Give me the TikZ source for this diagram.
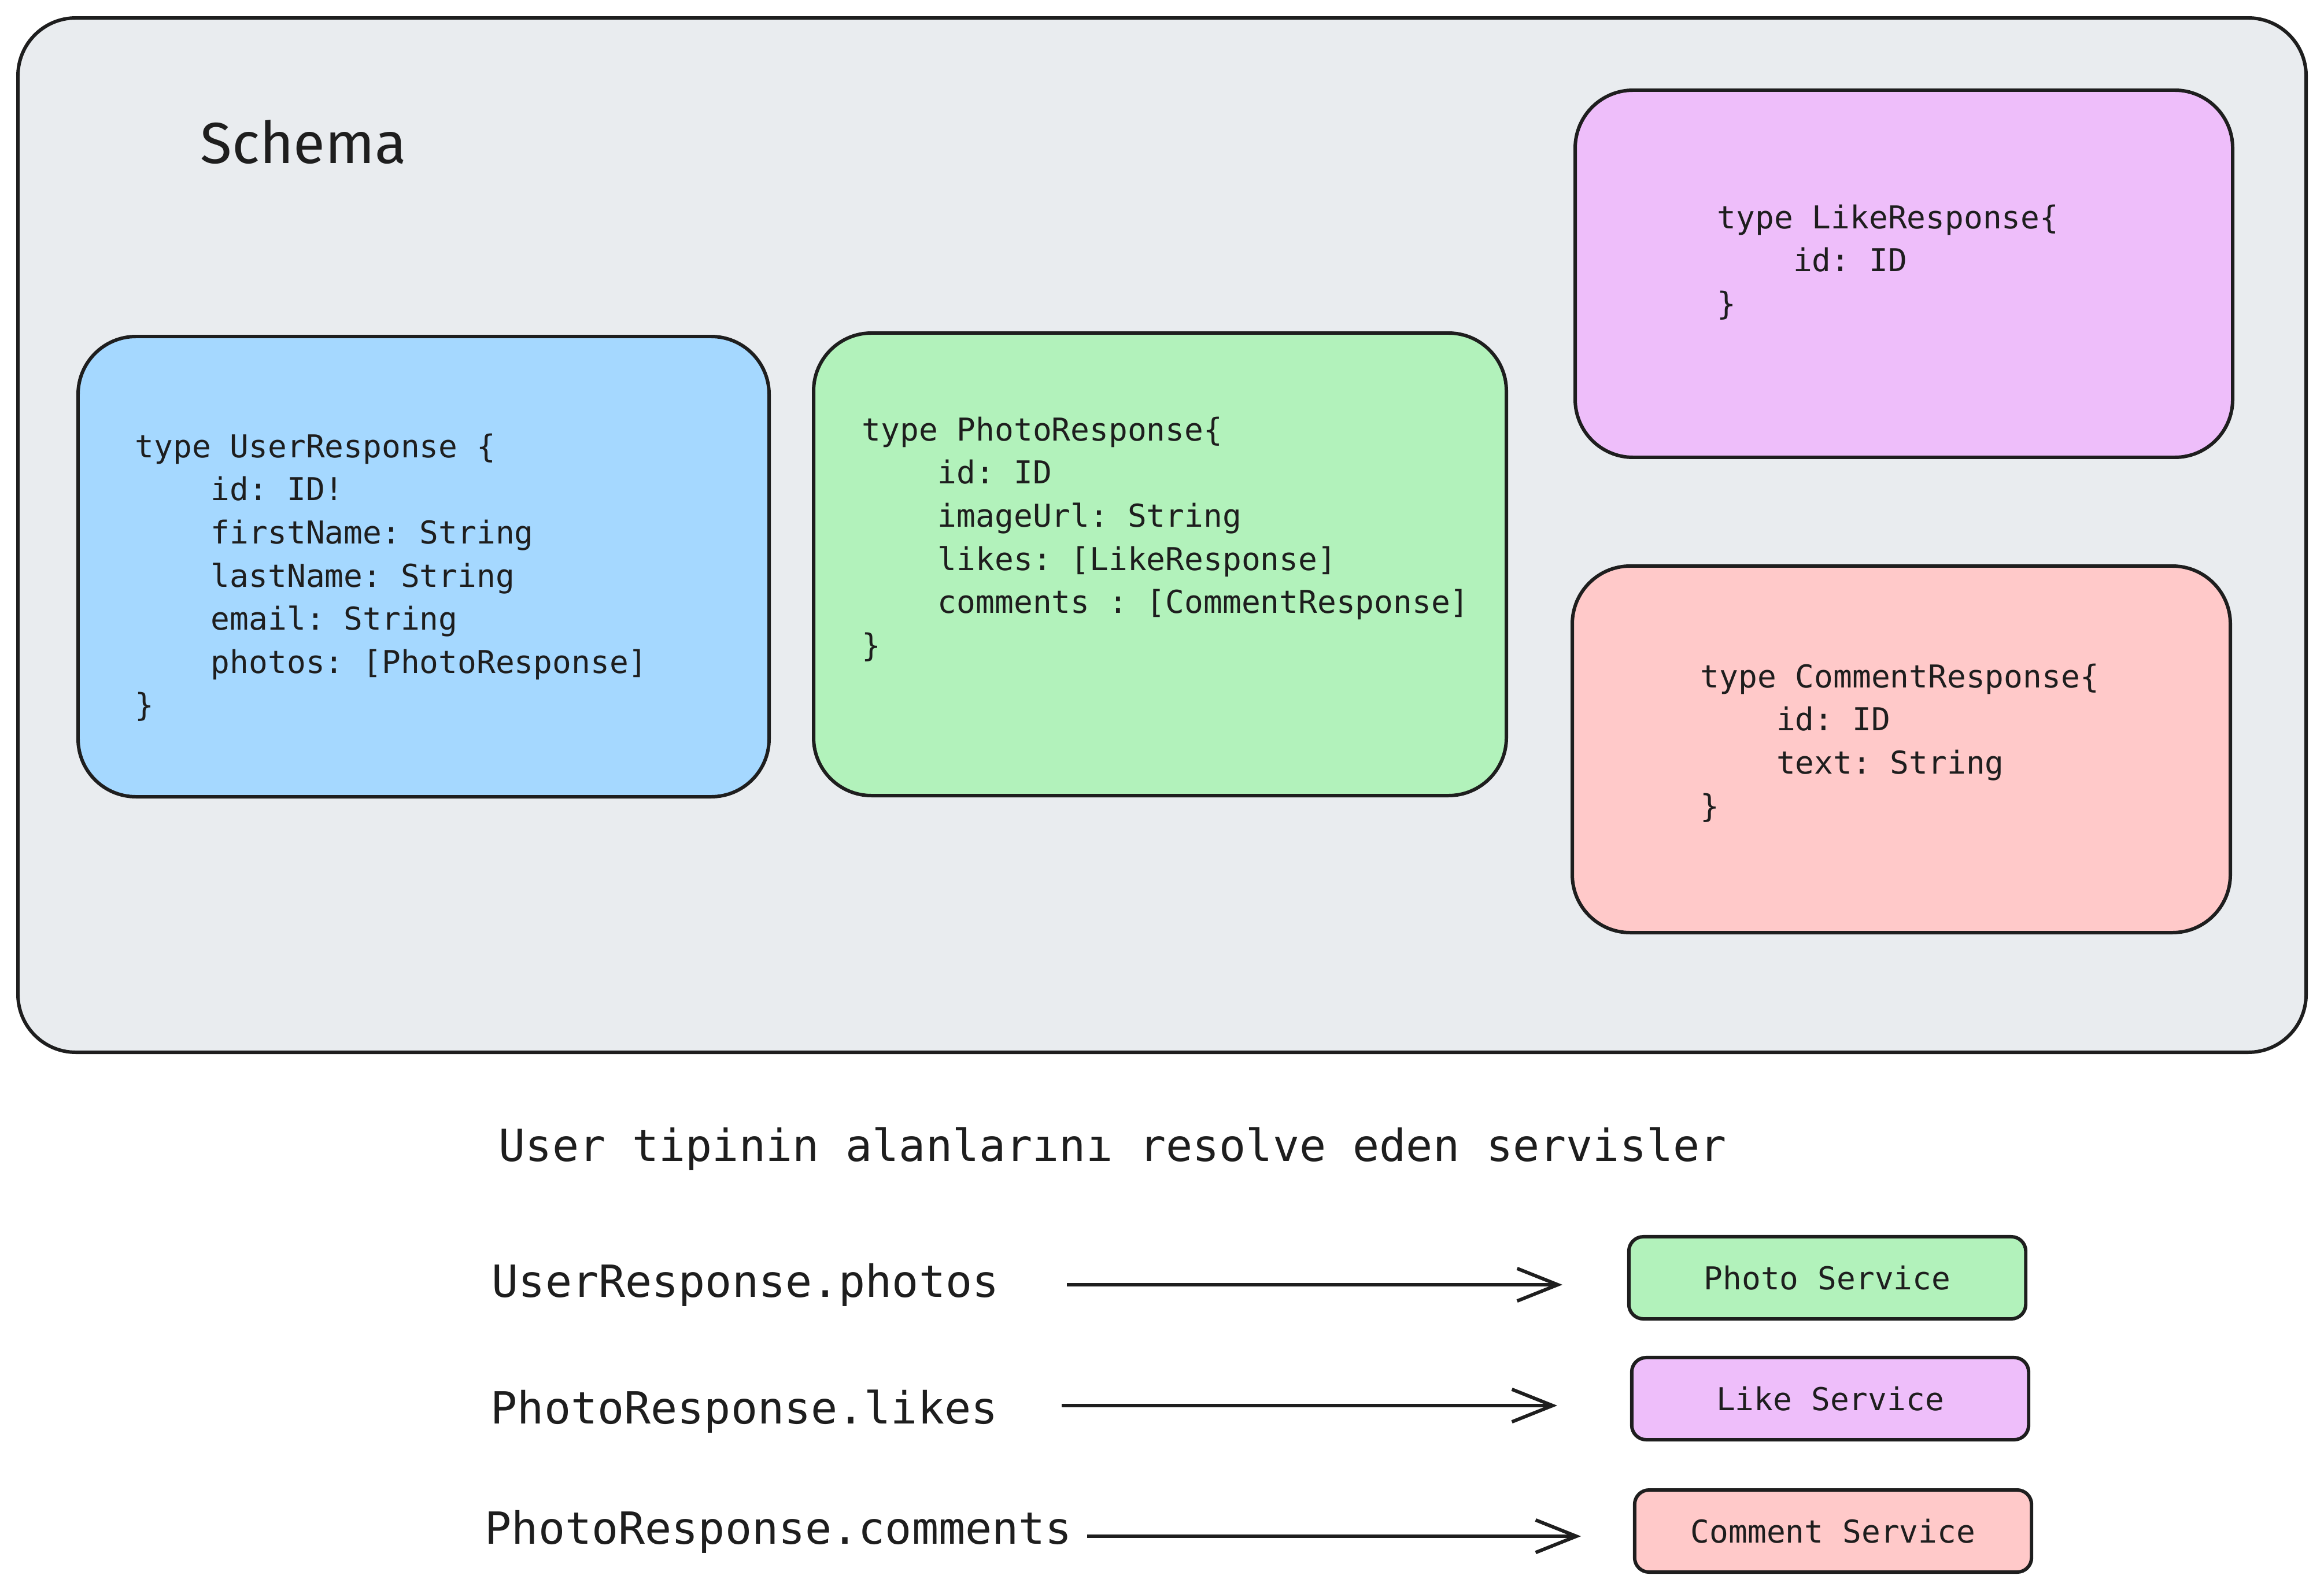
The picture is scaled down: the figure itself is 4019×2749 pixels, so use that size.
\documentclass[tikz,border=0pt]{standalone}
\usepackage{fontspec}
\setmonofont{DejaVu Sans Mono}
\newfontfamily\titlefont{Fira Sans}
\usepackage{tikz}
\usetikzlibrary{arrows.meta}
\definecolor{bgcolor}{HTML}{E9ECEF}
\definecolor{strokecolor}{HTML}{1E1E1E}
\definecolor{usercolor}{HTML}{A5D8FF}
\definecolor{photocolor}{HTML}{B2F2BB}
\definecolor{likecolor}{HTML}{EEBEFA}
\definecolor{commentcolor}{HTML}{FFC9C9}
\newcommand{\indt}{\hphantom{xxxx}}
\newcommand{\firstrow}{\rule{0pt}{13pt}}

\tikzset{
  typebox/.style={draw=strokecolor,line width=1.7pt,rounded corners=1cm},
  code/.style={anchor=north west,inner sep=0pt,align=left,text=strokecolor,
    font=\fontsize{15.5}{21.2}\selectfont\ttfamily},
  field/.style={anchor=base west,inner sep=0pt,text=strokecolor,
    font=\fontsize{21.8}{26}\selectfont\ttfamily},
  service/.style={draw=strokecolor,line width=1.7pt,rounded corners=0.25cm,
    minimum width=6.86cm,minimum height=1.42cm,inner sep=0pt,text=strokecolor,
    font=\fontsize{15.5}{18}\selectfont\ttfamily},
  resolve/.style={draw=strokecolor,line width=1.7pt,
    -{Straight Barb[length=20pt,width=16pt]}}
}

\begin{document}
\begin{tikzpicture}[x=0.01cm,y=-0.01cm]
\useasboundingbox (0,0) rectangle (4019,2749);
% schema frame
\draw[typebox,fill=bgcolor] (31,31) rectangle (3988,1820);
\node[anchor=base west,inner sep=0pt,text=strokecolor,
  font=\fontsize{28.5}{34}\selectfont\titlefont] (schema) at (346,283) {Schema};

% type boxes
\draw[typebox,fill=usercolor] (135,582) rectangle (1330,1378);
\draw[typebox,fill=photocolor] (1407,576) rectangle (2605,1376);
\draw[typebox,fill=likecolor] (2724,156) rectangle (3861,791);
\draw[typebox,fill=commentcolor] (2719,979) rectangle (3857,1613);

\node[code] (usertype) at (233,745) {\firstrow type UserResponse \{\\
  \indt id: ID!\\
  \indt firstName: String\\
  \indt lastName: String\\
  \indt email: String\\
  \indt photos: [PhotoResponse]\\
  \}};
\node[code] (phototype) at (1490,716) {\firstrow type PhotoResponse\{\\
  \indt id: ID\\
  \indt imageUrl: String\\
  \indt likes: [LikeResponse]\\
  \indt comments : [CommentResponse]\\
  \}};
\node[code] (liketype) at (2969,349) {\firstrow type LikeResponse\{\\
  \indt id: ID\\
  \}};
\node[code] (commenttype) at (2940,1143) {\firstrow type CommentResponse\{\\
  \indt id: ID\\
  \indt text: String\\
  \}};

% resolvers
\node[field] (title) at (862,2008) {User tipinin alanlarını resolve eden servisler};

\node[field] (photosfield) at (850,2243) {UserResponse.photos};
\node[field] (likesfield) at (848,2462) {PhotoResponse.likes};
\node[field] (commentsfield) at (838,2670) {PhotoResponse.comments};

\node[service,fill=photocolor] (photosvc) at (3160,2210) {Photo Service};
\node[service,fill=likecolor] (likesvc) at (3165,2419) {Like Service};
\node[service,fill=commentcolor] (commentsvc) at (3170,2648) {Comment Service};

\coordinate (photofrom) at (1845,2222);
\coordinate (phototo) at (2702,2222);
\coordinate (likefrom) at (1836,2431);
\coordinate (liketo) at (2693,2431);
\coordinate (commentfrom) at (1880,2657);
\coordinate (commentto) at (2734,2657);
\draw[resolve] (photofrom) -- (phototo);
\draw[resolve] (likefrom) -- (liketo);
\draw[resolve] (commentfrom) -- (commentto);
\end{tikzpicture}
\end{document}
